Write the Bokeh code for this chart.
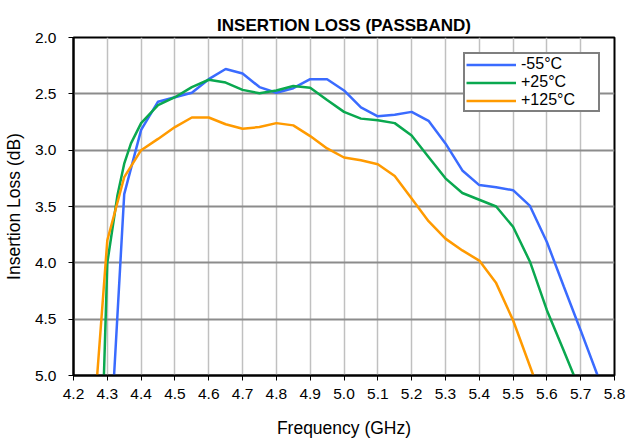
from bokeh.plotting import figure
from bokeh.models import Range1d, FixedTicker, PrintfTickFormatter, Legend, LegendItem
from bokeh.embed import file_html
from bokeh.resources import INLINE

# ---- data ----
freq_m55 = [4.32, 4.35, 4.40, 4.45, 4.50, 4.55, 4.60, 4.65, 4.70, 4.75, 4.80, 4.85, 4.90, 4.95,
            5.00, 5.05, 5.10, 5.15, 5.20, 5.25, 5.30, 5.35, 5.40, 5.45, 5.50, 5.55, 5.60, 5.65,
            5.70, 5.75]
loss_m55 = [5.0, 3.39, 2.82, 2.57, 2.53, 2.49, 2.37, 2.28, 2.32, 2.44, 2.49, 2.45, 2.37, 2.37,
            2.47, 2.62, 2.70, 2.685, 2.66, 2.74, 2.94, 3.18, 3.31, 3.33, 3.355, 3.495, 3.815, 4.21,
            4.60, 5.0]

freq_p25 = [4.29, 4.30, 4.316, 4.33, 4.35, 4.37, 4.40, 4.45, 4.50, 4.55, 4.60, 4.65, 4.70, 4.75,
            4.80, 4.85, 4.90, 4.95, 5.00, 5.05, 5.10, 5.15, 5.20, 5.25, 5.30, 5.35, 5.40, 5.45,
            5.50, 5.55, 5.60, 5.65, 5.68]
loss_p25 = [5.0, 4.0, 3.68, 3.40, 3.12, 2.94, 2.76, 2.60, 2.53, 2.44, 2.375, 2.40, 2.465, 2.495,
            2.47, 2.43, 2.445, 2.555, 2.66, 2.72, 2.735, 2.76, 2.87, 3.06, 3.25, 3.38, 3.44, 3.50,
            3.68, 3.99, 4.42, 4.78, 5.0]

freq_p125 = [4.27, 4.30, 4.35, 4.40, 4.45, 4.50, 4.55, 4.60, 4.65, 4.70, 4.75, 4.80, 4.85, 4.90,
             4.95, 5.00, 5.05, 5.10, 5.15, 5.20, 5.25, 5.30, 5.35, 5.40, 5.45, 5.50, 5.56]
loss_p125 = [5.0, 3.80, 3.24, 3.0, 2.90, 2.795, 2.71, 2.71, 2.77, 2.81, 2.795, 2.76, 2.78, 2.875,
             2.985, 3.065, 3.09, 3.125, 3.23, 3.43, 3.63, 3.785, 3.89, 3.98, 4.18, 4.51, 5.0]

series_labels = ["-55°C", "+25°C", "+125°C"]
x_ticks = [4.2, 4.3, 4.4, 4.5, 4.6, 4.7, 4.8, 4.9, 5.0, 5.1, 5.2, 5.3, 5.4, 5.5, 5.6, 5.7, 5.8]
y_ticks = [2.0, 2.5, 3.0, 3.5, 4.0, 4.5, 5.0]

FONT = "Liberation Sans"

p = figure(width=628, height=442, output_backend="svg", toolbar_location=None,
           x_range=Range1d(4.2, 5.8), y_range=Range1d(5.0, 2.0),
           title="INSERTION LOSS (PASSBAND)")
p.min_border_left = 71
p.min_border_right = 14
p.min_border_top = 37
p.min_border_bottom = 67

p.title.align = "center"
p.title.text_font = FONT
p.title.text_font_size = "17px"
p.title.text_font_style = "bold"
p.title.text_color = "black"
p.title.standoff = 6

p.outline_line_color = "black"
p.outline_line_width = 2
p.background_fill_color = "white"
p.border_fill_color = "white"

for ax in (p.xaxis[0], p.yaxis[0]):
    ax.axis_line_color = "black"
    ax.axis_line_width = 2
    ax.major_tick_in = 0
    ax.major_tick_out = 5
    ax.major_tick_line_color = "black"
    ax.minor_tick_line_color = None
    ax.major_label_text_font = FONT
    ax.major_label_text_font_size = "15.5px"
    ax.major_label_text_color = "black"
    ax.axis_label_text_font = FONT
    ax.axis_label_text_font_size = "17.5px"
    ax.axis_label_text_font_style = "normal"
    ax.axis_label_text_color = "black"
    ax.formatter = PrintfTickFormatter(format="%.1f")

p.xaxis[0].major_label_standoff = 8
p.yaxis[0].major_label_standoff = 12
p.xaxis[0].axis_label_standoff = 16
p.yaxis[0].axis_label_standoff = 8

p.xaxis[0].ticker = FixedTicker(ticks=x_ticks)
p.yaxis[0].ticker = FixedTicker(ticks=y_ticks)
p.xaxis[0].axis_label = "Frequency (GHz)"
p.yaxis[0].axis_label = "Insertion Loss (dB)"

p.xgrid[0].ticker = FixedTicker(ticks=x_ticks)
p.xgrid[0].grid_line_color = "#c0c0c0"
p.xgrid[0].grid_line_width = 1.5
p.ygrid[0].ticker = FixedTicker(ticks=y_ticks)
p.ygrid[0].grid_line_color = "#8c8c8c"
p.ygrid[0].grid_line_width = 2

colors = ["#3a6bff", "#0aa84f", "#ff9a00"]
r1 = p.line(freq_m55, loss_m55, line_color=colors[0], line_width=2.5)
r2 = p.line(freq_p25, loss_p25, line_color=colors[1], line_width=2.5)
r3 = p.line(freq_p125, loss_p125, line_color=colors[2], line_width=2.5)

legend = Legend(items=[LegendItem(label=series_labels[0], renderers=[r1]),
                       LegendItem(label=series_labels[1], renderers=[r2]),
                       LegendItem(label=series_labels[2], renderers=[r3])],
                location=(390, 263))
legend.border_line_color = "black"
legend.border_line_width = 2
legend.background_fill_color = "white"
legend.background_fill_alpha = 1
legend.label_text_font = FONT
legend.label_text_font_size = "16px"
legend.label_text_color = "black"
legend.label_height = 17
legend.glyph_height = 17
legend.glyph_width = 50
legend.label_standoff = 5
legend.label_width = 76
legend.padding = 1
legend.spacing = 0
legend.margin = 0
p.add_layout(legend, "center")

open("out.html", "w").write(file_html(p, INLINE))
